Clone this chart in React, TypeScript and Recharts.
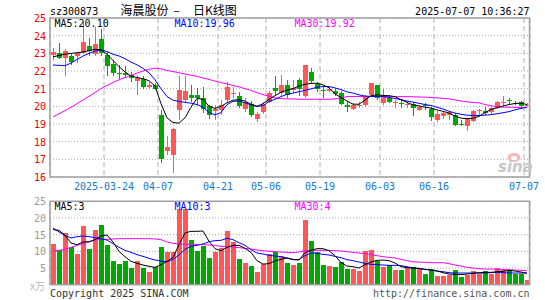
import React from 'react';
import { ComposedChart, Bar, Line, XAxis, YAxis, CartesianGrid } from 'recharts';

const dates = [
  '2025-03-11','2025-03-12','2025-03-13','2025-03-14','2025-03-17','2025-03-18','2025-03-19','2025-03-20','2025-03-21','2025-03-24','2025-03-25','2025-03-26','2025-03-27','2025-03-28','2025-03-31',
  '2025-04-01','2025-04-02','2025-04-03','2025-04-07','2025-04-08','2025-04-09','2025-04-10','2025-04-11','2025-04-14','2025-04-15','2025-04-16','2025-04-17','2025-04-18','2025-04-21','2025-04-22','2025-04-23','2025-04-24','2025-04-25','2025-04-28','2025-04-29','2025-04-30',
  '2025-05-06','2025-05-07','2025-05-08','2025-05-09','2025-05-12','2025-05-13','2025-05-14','2025-05-15','2025-05-16','2025-05-19','2025-05-20','2025-05-21','2025-05-22','2025-05-23','2025-05-26','2025-05-27','2025-05-28','2025-05-29','2025-05-30',
  '2025-06-03','2025-06-04','2025-06-05','2025-06-06','2025-06-09','2025-06-10','2025-06-11','2025-06-12','2025-06-13','2025-06-16','2025-06-17','2025-06-18','2025-06-19','2025-06-20','2025-06-23','2025-06-24','2025-06-25','2025-06-26','2025-06-27','2025-06-30',
  '2025-07-01','2025-07-02','2025-07-03','2025-07-04','2025-07-07',
];

const open = [22.91,23.0,22.72,22.87,22.85,23.0,23.42,22.97,23.8,22.88, 22.4,21.9,21.86,21.78,21.46,21.55,21.1,21.2,19.52,17.45, 17.26,19.8,20.37,20.65,20.62,20.5,20.0,19.75,19.8,20.37, 20.72,20.61,19.86,20.12,19.3,19.67,20.24,21.06,20.74,21.21, 20.93,21.5,20.61,21.97,21.25,20.9,20.88,20.88,20.74,20.05, 19.86,20.0,20.08,20.65,21.18,20.18,20.46,20.22,20.2,20.1, 20.12,19.82,20.1,19.86,19.24,19.48,19.52,19.52,18.98,18.86, 19.18,19.73,19.75,19.67,19.93,20.22,20.34,20.2,20.24,20.05];
const high = [23.29,23.6,23.25,23.0,23.1,24.8,23.85,24.5,24.35,23.1, 22.65,22.35,22.3,21.97,21.75,21.72,21.35,21.3,19.8,18.3, 18.77,21.69,21.69,21.2,21.05,21.12,20.1,20.1,20.35,21.4, 21.12,20.8,20.46,20.3,19.7,20.24,20.88,21.72,21.78,21.5, 21.5,21.6,22.34,22.19,21.4,21.12,21.12,21.0,20.88,20.3, 20.18,20.24,20.65,21.31,21.21,21.0,20.65,20.37,20.37,20.3, 20.24,20.08,20.18,19.99,19.71,19.67,19.71,19.61,19.24,19.35, 19.8,19.86,19.99,19.99,20.3,20.61,20.46,20.3,20.3,20.2];
const low = [22.63,22.68,21.7,22.35,22.45,22.95,22.85,22.85,22.85,21.7, 21.7,21.55,21.6,21.4,20.65,20.99,21.0,20.9,16.8,17.26, 16.2,19.25,20.18,20.27,20.1,19.6,19.3,19.25,19.52,20.27, 20.46,19.93,19.7,19.37,19.14,19.56,20.18,20.65,20.61,20.46, 20.74,20.56,20.5,21.3,20.8,20.46,20.8,20.56,20.08,19.7, 19.8,19.9,19.98,20.56,20.37,20.08,20.18,19.93,19.9,19.93, 19.43,19.71,19.8,19.18,19.11,19.3,19.24,18.86,18.86,18.62, 19.11,19.52,19.52,19.56,19.86,20.0,20.05,20.05,19.93,20.0];
const close = [23.1,22.75,23.15,22.5,23.0,23.65,23.15,23.55,23.0,22.3, 21.9,21.82,21.8,21.6,21.63,21.12,21.2,21.0,17.03,17.67, 18.73,20.93,20.84,20.48,20.5,19.85,19.5,19.85,20.08,21.12, 20.76,20.0,20.24,19.52,19.56,20.12,20.74,20.88,21.21,20.65, 21.02,20.98,22.34,21.44,21.0,20.85,21.0,20.7,20.12,19.95, 20.05,20.1,20.56,21.31,20.5,20.65,20.24,20.26,20.15,20.14, 19.9,19.98,20.06,19.37,19.56,19.6,19.67,18.95,18.93,19.33, 19.75,19.77,19.6,19.9,20.24,20.26,20.3,20.16,20.0,20.1];

const ma5 = [22.8,22.88,22.95,23.0,23.03,23.08,23.15,23.23,23.2,22.95, 22.6,22.25,21.95,21.72,21.63,21.57,21.45,21.15,20.15,19.35, 19.08,19.05,19.35,19.95,20.45,20.4,20.0,19.88,20.0,20.2, 20.35,20.37,20.3,20.12,20.0,20.15,20.4,20.6,20.8,20.92, 21.0,21.15,21.25,21.3,21.31,21.22,21.05,20.7,20.5,20.3, 20.12,20.12,20.35,20.6,20.65,20.62,20.6,20.55,20.38,20.22, 20.08,20.02,19.95,19.9,19.8,19.72,19.62,19.45,19.33,19.3, 19.33,19.43,19.65,19.82,19.92,20.02,20.1,20.16,20.18,20.1];
const ma10 = [22.34,22.32,22.3,22.45,22.65,22.85,23.0,23.12,23.2,23.1, 22.95,22.85,22.7,22.5,22.35,22.15,21.9,21.5,21.0,20.55, 20.35,20.28,20.22,20.18,20.1,19.95,19.65,19.52,19.65,20.1, 20.28,20.3,20.2,20.08,20.0,20.03,20.28,20.4,20.55,20.68, 20.75,20.83,20.9,20.99,21.08,21.12,21.12,21.04,20.95,20.82, 20.75,20.65,20.58,20.56,20.56,20.56,20.5,20.44,20.38,20.3, 20.24,20.17,20.1,20.05,19.95,19.85,19.72,19.62,19.55,19.5, 19.48,19.48,19.5,19.53,19.58,19.64,19.7,19.8,19.88,19.96];
const ma30 = [19.4,19.58,19.76,19.95,20.15,20.36,20.57,20.78,21.0,21.18, 21.35,21.5,21.63,21.75,21.88,22.0,22.1,22.16,22.12,22.03, 21.97,21.9,21.83,21.76,21.7,21.6,21.52,21.43,21.35,21.27, 21.18,21.1,21.0,20.9,20.78,20.66,20.57,20.48,20.44,20.42, 20.42,20.4,20.4,20.4,20.4,20.4,20.4,20.42,20.48,20.55, 20.56,20.56,20.56,20.56,20.56,20.56,20.56,20.55,20.55,20.55, 20.54,20.53,20.52,20.5,20.48,20.45,20.42,20.37,20.3,20.25, 20.22,20.2,20.1,20.03,19.98,19.95,19.95,19.94,19.93,19.92];

const volume = [12.1,10.4,15.5,11.4,9.1,17.7,10.6,16.5,18.0,11.8, 7.1,6.1,7.1,5.0,7.1,5.0,3.9,5.3,11.4,9.7, 9.9,22.8,22.8,13.5,10.0,11.6,8.0,9.9,11.0,16.0, 12.8,7.7,6.6,5.6,3.8,6.3,9.3,9.9,8.6,6.6, 5.8,6.4,19.5,13.1,9.8,5.8,5.6,5.3,6.7,4.7, 4.8,4.2,10.1,10.3,7.1,5.3,5.8,4.5,4.5,5.1, 5.4,4.7,3.2,4.7,2.7,2.7,2.9,4.5,2.4,3.0, 4.1,3.2,4.2,3.2,5.1,4.7,4.5,3.2,3.2,1.5];
const vma5 = [16.5,16.3,14.8,12.5,12.0,12.8,12.9,13.5,14.6,14.9, 12.8,10.0,8.4,7.0,6.4,5.9,5.5,5.2,6.0,7.0, 8.2,12.0,15.5,16.0,16.0,16.1,13.0,10.8,10.2,11.2, 11.8,11.8,10.9,9.7,7.2,6.2,6.3,7.1,7.6,8.0, 7.6,7.4,9.6,10.3,10.8,10.8,10.2,8.7,6.6,5.6, 5.4,5.0,6.0,6.8,7.3,7.4,7.2,6.5,5.4,5.1, 5.0,4.9,4.6,4.4,4.1,3.6,3.2,3.1,3.0,3.2, 3.4,3.6,3.7,3.7,3.9,4.0,4.3,4.1,3.8,3.4];
const vma10 = [17.0,15.8,14.8,14.0,14.4,14.6,14.4,14.1,13.7,13.4, 12.3,11.2,10.3,9.7,9.0,8.5,7.9,7.4,7.1,6.9, 7.6,8.9,10.6,11.5,11.8,12.2,12.9,13.2,13.3,13.9, 13.5,12.6,11.8,10.5,9.5,9.2,8.8,8.6,8.4,8.0, 7.5,7.5,8.7,9.5,9.4,9.1,8.9,8.5,8.1,7.5, 7.2,6.8,6.4,6.1,6.0,5.9,5.8,5.8,5.7,5.4, 5.0,4.8,4.6,4.4,4.1,3.9,3.6,3.5,3.5,3.5, 3.5,3.5,3.5,3.6,3.7,3.6,3.5,3.5,3.5,3.5];
const vma30 = [10.1,10.3,10.6,11.2,11.8,12.3,12.8,13.4,13.6,13.6, 13.7,13.8,13.8,13.8,13.8,13.8,13.8,13.7,13.5,12.8, 12.4,12.2,12.1,12.1,12.1,12.0,11.9,11.8,11.5,11.4, 11.3,11.1,10.9,10.7,10.4,10.2,10.0,9.9,9.8,9.7, 9.6,9.8,10.2,10.3,10.3,10.3,10.3,10.2,10.1,9.9, 9.7,9.5,9.3,9.0,8.7,8.4,8.2,8.0,7.6,7.2, 6.9,6.8,6.7,6.6,6.6,6.6,6.3,5.9,5.6,5.2, 5.0,4.8,4.7,4.7,4.6,4.5,4.5,4.4,4.3,4.2];

const tickDates = ['2025-03-24','2025-04-07','2025-04-21','2025-05-06','2025-05-19','2025-06-03','2025-06-16','2025-07-07'];
const priceTicks = [16,17,18,19,20,21,22,23,24,25];
const volTicks = [5,10,15,20,25];

const symbol = 'sz300873';
const titleName = '海晨股份';
const titleDash = '–';
const titleKind = '日K线图';
const timestamp = '2025-07-07 10:36:27';
const copyright = 'Copyright 2025 SINA.COM';
const url = 'http://finance.sina.com.cn';
const volUnit = 'x万';

const UP = '#ff5757';
const DOWN = '#00a800';
const MONO = "'DejaVu Sans Mono', 'Liberation Mono', monospace";
const CJK = "'Noto Sans CJK SC', sans-serif";

const tickIdx = tickDates.map((d) => dates.indexOf(d));
const tickLabel: Record<number, string> = {};
tickIdx.forEach((t, k) => { tickLabel[t] = k === 0 ? tickDates[k] : tickDates[k].slice(5); });

const rows = dates.map((d, i) => ({
  x: i + 0.5,
  date: d,
  o: open[i], h: high[i], l: low[i], c: close[i],
  range: [low[i], high[i]],
  ma5: ma5[i], ma10: ma10[i], ma30: ma30[i],
  vol: volume[i], vma5: vma5[i], vma10: vma10[i], vma30: vma30[i],
  up: close[i] >= open[i],
}));

const last = rows.length - 1;

const Candle = (props: any) => {
  const { x, y, width, height, payload } = props;
  if (x == null || y == null) return null;
  const { o, h, l, c, up } = payload;
  const cx = Math.round(x + width / 2) + 0.5;
  const span = h - l || 1;
  const py = (p: number) => y + ((h - p) / span) * height;
  const color = up ? UP : DOWN;
  const top = py(Math.max(o, c));
  const bot = py(Math.min(o, c));
  return (
    <g shapeRendering="crispEdges">
      <line x1={cx} x2={cx} y1={y} y2={y + height} stroke={color} strokeWidth={1} />
      <rect x={cx - 2.5} y={top} width={5} height={Math.max(1, bot - top)} fill={color} />
    </g>
  );
};

const VolBar = (props: any) => {
  const { x, y, width, height, payload } = props;
  if (x == null || y == null) return null;
  const cx = Math.round(x + width / 2) + 0.5;
  return <rect x={cx - 2.5} y={y} width={5} height={Math.max(0, height)} fill={payload.up ? UP : DOWN} shapeRendering="crispEdges" />;
};

const PriceTick = (props: any) => (
  <text x={props.x} y={props.y} dy={4} textAnchor="end" fill="#e60000" fontSize={10} fontFamily={MONO}>
    {props.payload.value}
  </text>
);
const VolTick = (props: any) => (
  <text x={props.x} y={props.y} dy={4} textAnchor="end" fill="#9a9a9a" fontSize={10} fontFamily={MONO}>
    {props.payload.value}
  </text>
);
const DateTick = (props: any) => (
  <text x={props.x} y={props.y} dy={13} textAnchor="middle" fill="#1478cc" fontSize={10} fontFamily={MONO}>
    {tickLabel[props.payload.value]}
  </text>
);

export default function App() {
  return (
    <div style={{ position: 'fixed', left: 0, top: 0, width: 545, height: 300, background: '#fff', overflow: 'hidden' }}>
      <div style={{ position: 'absolute', left: 0, top: 0 }}>
        <ComposedChart width={545} height={197} data={rows} margin={{ top: 18, right: 15, bottom: 0, left: 0 }}>
          <CartesianGrid vertical={false} stroke="#a8a8a8" strokeDasharray="1 2" />
          <CartesianGrid horizontal={false} stroke="#b0b0b0" strokeDasharray="5 3" />
          <XAxis dataKey="x" type="number" domain={[0, 80]} allowDataOverflow ticks={tickIdx} interval={0}
            tick={<DateTick />} tickLine={false} axisLine={false} tickSize={0} tickMargin={0} height={20} />
          <YAxis type="number" domain={[16, 25]} allowDataOverflow ticks={priceTicks} interval={0}
            tick={<PriceTick />} tickLine={false} axisLine={false} tickSize={0} tickMargin={4} width={50} />
          <Bar dataKey="range" barSize={6} shape={<Candle />} isAnimationActive={false} />
          <Line dataKey="ma30" stroke="#ff00ff" strokeWidth={1} dot={false} isAnimationActive={false} />
          <Line dataKey="ma10" stroke="#0000ff" strokeWidth={1} dot={false} isAnimationActive={false} />
          <Line dataKey="ma5" stroke="#000000" strokeWidth={1} dot={false} isAnimationActive={false} />
        </ComposedChart>
      </div>
      <div style={{ position: 'absolute', left: 0, top: 190 }}>
        <ComposedChart width={545} height={110} data={rows} margin={{ top: 11.3, right: 15, bottom: 15.3, left: 0 }}>
          <CartesianGrid vertical={false} stroke="#a8a8a8" strokeDasharray="1 2" />
          <CartesianGrid horizontal={false} stroke="#b0b0b0" strokeDasharray="5 3" />
          <XAxis dataKey="x" type="number" domain={[0, 80]} allowDataOverflow ticks={tickIdx} interval={0}
            tick={false} tickLine={false} axisLine={false} height={0} />
          <YAxis type="number" domain={[0, 25]} allowDataOverflow ticks={volTicks} interval={0}
            tick={<VolTick />} tickLine={false} axisLine={false} tickSize={0} tickMargin={4} width={50} />
          <Bar dataKey="vol" barSize={6} shape={<VolBar />} isAnimationActive={false} />
          <Line dataKey="vma30" stroke="#ff00ff" strokeWidth={1} dot={false} isAnimationActive={false} />
          <Line dataKey="vma10" stroke="#0000ff" strokeWidth={1} dot={false} isAnimationActive={false} />
          <Line dataKey="vma5" stroke="#000000" strokeWidth={1} dot={false} isAnimationActive={false} />
        </ComposedChart>
      </div>
      <svg width={545} height={300} style={{ position: 'absolute', left: 0, top: 0, pointerEvents: 'none' }}>
        <rect x={50} y={18} width={479.5} height={159} fill="none" stroke="#a0a0a0" strokeWidth={1.5} />
        <rect x={50} y={201.3} width={479.5} height={83.4} fill="none" stroke="#a0a0a0" strokeWidth={1.5} />
        <g fontFamily={MONO} fontSize={10}>
          <text x={50} y={15} fill="#000">{symbol}</text>
          <text x={529.5} y={15} fill="#000" textAnchor="end">{timestamp}</text>
          <text x={54.5} y={26.5} fill="#000">{'MA5:' + ma5[last].toFixed(2)}</text>
          <text x={174.5} y={26.5} fill="#0000ff">{'MA10:' + ma10[last].toFixed(2)}</text>
          <text x={294.5} y={26.5} fill="#ff00ff">{'MA30:' + ma30[last].toFixed(2)}</text>
          <text x={54.5} y={209.5} fill="#000">{'MA5:' + Math.floor(vma5[last])}</text>
          <text x={174.5} y={209.5} fill="#0000ff">{'MA10:' + Math.floor(vma10[last])}</text>
          <text x={294.5} y={209.5} fill="#ff00ff">{'MA30:' + Math.floor(vma30[last])}</text>
          <text x={50} y={296.5} fill="#333">{copyright}</text>
          <text x={529.5} y={296.5} fill="#555" textAnchor="end">{url}</text>
        </g>
        <g fontFamily={CJK} fontSize={12} fill="#000">
          <text x={120.5} y={15}>{titleName}</text>
          <text x={176.5} y={15} textAnchor="middle">{titleDash}</text>
          <text x={193} y={15}>{titleKind}</text>
        </g>
        <text x={45} y={290} textAnchor="end" fontFamily={CJK} fontSize={10} fill="#b8b8b8">{volUnit}</text>
        <ellipse cx={514} cy={157.5} rx={6.5} ry={4.5} fill="#f6b8b8" />
        <ellipse cx={514} cy={158} rx={3} ry={2.2} fill="#ffffff" />
        <text x={498} y={172} fontFamily="'DejaVu Sans', sans-serif" fontStyle="italic" fontWeight="bold" fontSize={15} fill="#c6c6c6">sina</text>
      </svg>
    </div>
  );
}
